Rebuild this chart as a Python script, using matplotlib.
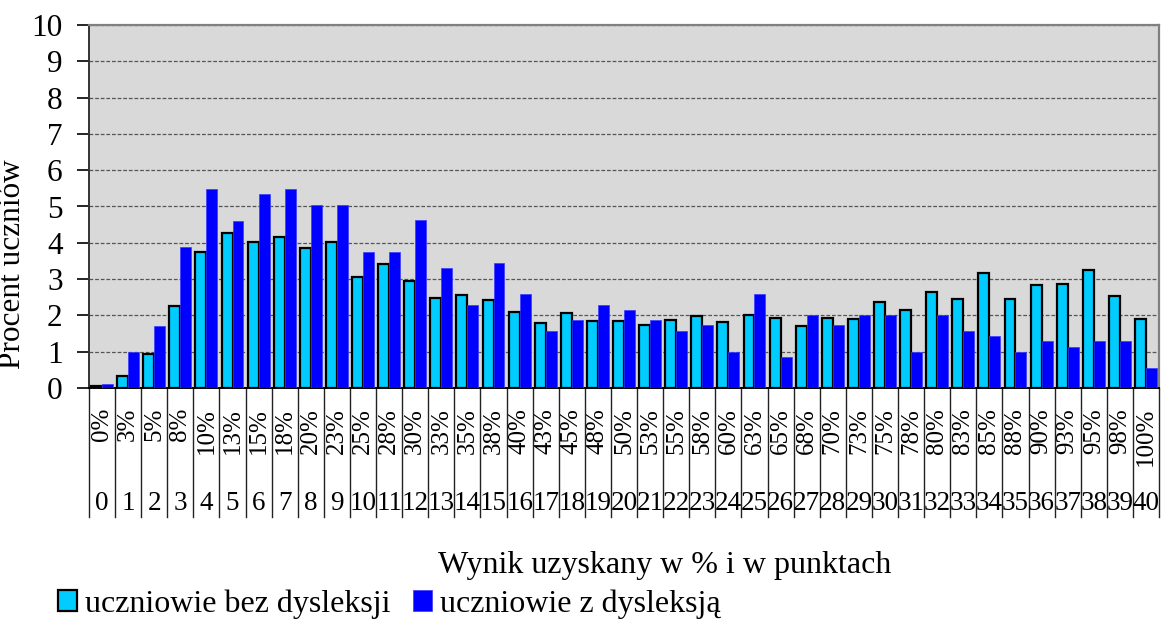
import numpy as np
import matplotlib
matplotlib.use("Agg")
import matplotlib.pyplot as plt

plt.rcParams['font.family'] = ['Liberation Serif', 'DejaVu Serif']

# punkty 0..40 i odpowiadajace im procenty
punkty = [str(i) for i in range(41)]
procenty = ["0%", "3%", "5%", "8%", "10%", "13%", "15%", "18%", "20%", "23%",
            "25%", "28%", "30%", "33%", "35%", "38%", "40%", "43%", "45%", "48%",
            "50%", "53%", "55%", "58%", "60%", "63%", "65%", "68%", "70%", "73%",
            "75%", "78%", "80%", "83%", "85%", "88%", "90%", "93%", "95%", "98%",
            "100%"]

bez_dysleksji = [0.05, 0.32, 0.93, 2.27, 3.74, 4.28, 4.03, 4.15, 3.85, 4.03,
                 3.07, 3.42, 2.94, 2.47, 2.55, 2.42, 2.10, 1.79, 2.07, 1.85,
                 1.85, 1.74, 1.87, 1.97, 1.82, 2.00, 1.92, 1.71, 1.92, 1.90,
                 2.36, 2.15, 2.64, 2.44, 3.17, 2.44, 2.84, 2.87, 3.24, 2.53,
                 1.90]
z_dysleksja = [0.12, 0.99, 1.72, 3.89, 5.48, 4.61, 5.34, 5.48, 5.05, 5.05,
               3.74, 3.75, 4.63, 3.31, 2.30, 3.45, 2.59, 1.58, 1.86, 2.30,
               2.15, 1.86, 1.58, 1.73, 1.00, 2.59, 0.85, 2.01, 1.73, 2.01,
               2.01, 1.00, 2.01, 1.58, 1.43, 1.00, 1.29, 1.14, 1.29, 1.29,
               0.56]

x = np.arange(len(punkty))
w = 0.42

fig = plt.figure(figsize=(11.62, 6.23), dpi=100)
ax = fig.add_axes([89/1162, 1-388/623, (1159-89)/1162, 363/623])
ax.set_facecolor("#d9d9d9")

ax.bar(x - w/2, bez_dysleksji, w, color="#00ccff", edgecolor="black",
       linewidth=1.6, label="uczniowie bez dysleksji", zorder=3)
ax.bar(x + w/2, z_dysleksja, w, color="#0000ff", edgecolor="#3a3aff",
       linewidth=0.5, label="uczniowie z dysleksją", zorder=3)

ax.set_xlim(-0.5, 40.5)
ax.set_ylim(0, 10)
ax.set_yticks(range(11))
ax.tick_params(axis="y", labelsize=22.5, length=9, width=1.2, pad=10, direction="out")
ax.set_xticks([])
ax.yaxis.grid(True, linestyle=(0, (3, 1.5)), color="#555555", linewidth=0.9, zorder=1)

for s in ["top", "right"]:
    ax.spines[s].set_color("#808080")
    ax.spines[s].set_linewidth(1.6)
ax.spines["left"].set_color("#333333")
ax.spines["left"].set_linewidth(1.4)
ax.spines["bottom"].set_color("black")
ax.spines["bottom"].set_linewidth(1.4)

ax.set_ylabel("Procent uczniów", fontsize=22.5)
ax.yaxis.set_label_coords((27-89)/1070, 0.34)

# tabelka pod osia: procenty i punkty
tr = ax.get_xaxis_transform()
for i in range(len(punkty)):
    ax.text(x[i], -0.055, procenty[i], rotation=90, ha="center", va="top",
            fontsize=18, transform=tr)
    ax.text(x[i], -0.336, punkty[i], ha="center", va="baseline",
            fontsize=19.5, transform=tr)
for b in np.arange(-0.5, 41, 1):
    ax.plot([b, b], [0, -0.355], color="#222222", linewidth=1.0,
            transform=tr, clip_on=False)

fig.text(665/1162, 1-566/623, "Wynik uzyskany w % i w punktach",
         ha="center", va="center", fontsize=23)

fig.legend(loc="center left", bbox_to_anchor=(58/1162, 1-604/623), ncol=2,
           frameon=False, fontsize=23, handlelength=0.6, handleheight=0.6,
           handletextpad=0.25, columnspacing=0.7, borderpad=0, borderaxespad=0)

plt.savefig("out.png", dpi=100)
